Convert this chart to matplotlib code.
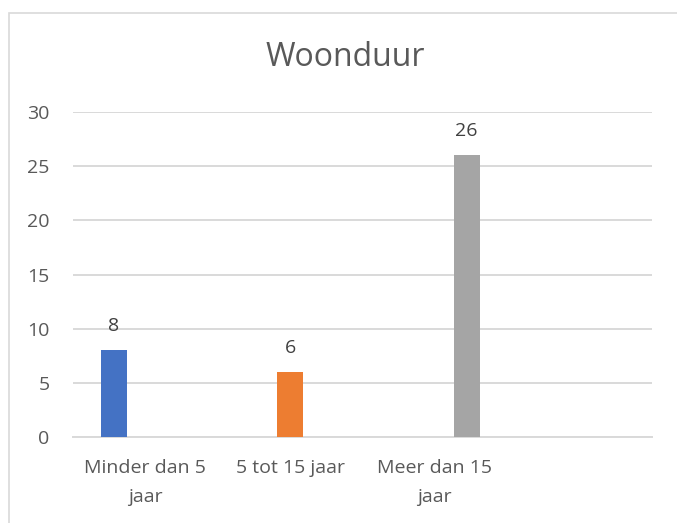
import matplotlib
matplotlib.use("Agg")
import matplotlib.pyplot as plt
from matplotlib.patches import Rectangle

# data
categories = ["Minder dan 5\njaar", "5 tot 15 jaar", "Meer dan 15\njaar", ""]
values = [8, 6, 26]
colors = ["#4472C4", "#ED7D31", "#A5A5A5"]
yticks = [0, 5, 10, 15, 20, 25, 30]

plt.rcParams['font.family'] = ['Open Sans', 'DejaVu Sans']
text_col = "#595959"
grid_col = "#D9D9D9"

fig = plt.figure(figsize=(6.77, 5.23), dpi=100)
ax = fig.add_axes([73 / 677, 1 - 437 / 523, (652 - 73) / 677, (437 - 112) / 523])

# each series sits at its own slot in the cluster
offsets = [-0.22, 0.0, 0.22]
for i, (v, c) in enumerate(zip(values, colors)):
    x = i + offsets[i]
    ax.bar(x, v, width=0.18, color=c, zorder=3)
    ax.annotate(str(v), (x, v), xytext=(0, 11), textcoords="offset points",
                ha="center", va="bottom", fontsize=14, color="#404040")

ax.set_xlim(-0.5, len(categories) - 0.5)
ax.set_ylim(0, 30)
ax.set_yticks(yticks)
ax.set_xticks(range(len(categories)))
ax.set_xticklabels(categories, linespacing=1.75)
ax.tick_params(axis="y", length=0, pad=17, labelsize=14, labelcolor=text_col)
ax.tick_params(axis="x", length=0, pad=16, labelsize=14, labelcolor=text_col)

ax.grid(axis="y", color=grid_col, linewidth=1.4, zorder=0)
for s in ["top", "right", "left"]:
    ax.spines[s].set_visible(False)
ax.spines["bottom"].set_color(grid_col)
ax.spines["bottom"].set_linewidth(1.4)

fig.text(345 / 677, 1 - 57 / 523, "Woonduur", ha="center", va="center",
         fontsize=23, color=text_col)

# chart border (cut off on right and bottom)
fig.patches.append(Rectangle((9 / 677, -0.05), 1.0, 1 - 13 / 523 + 0.05,
                             transform=fig.transFigure, fill=False,
                             edgecolor=grid_col, linewidth=1.2))

fig.savefig("out.png", dpi=100)
